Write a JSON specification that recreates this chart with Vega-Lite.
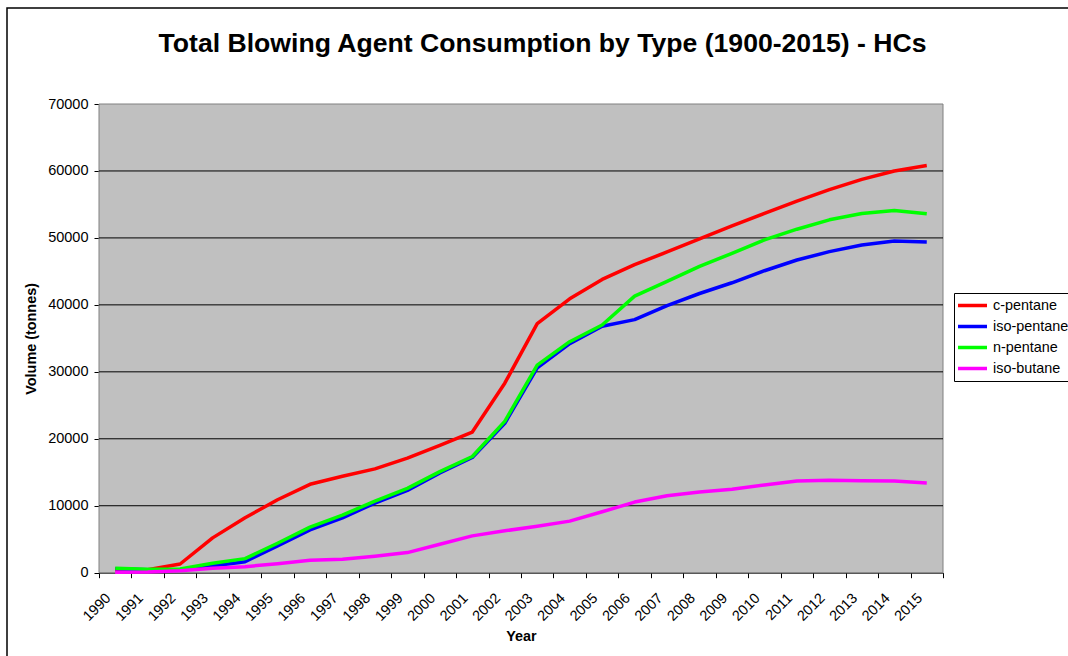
{
  "$schema": "https://vega.github.io/schema/vega-lite/v6.json",
  "autosize": "none",
  "width": 1071,
  "height": 660,
  "padding": {"left": 7, "top": 8, "right": 0, "bottom": 0},
  "background": "white",
  "title": {
    "text": "Total Blowing Agent Consumption by Type (1900-2015) - HCs",
    "font": "Liberation Sans",
    "fontSize": 26.6,
    "fontWeight": "bold",
    "color": "black",
    "anchor": "middle",
    "frame": "group",
    "baseline": "alphabetic",
    "offset": 0,
    "dy": 71
  },
  "datasets": {
    "series": [
      {"Year": 1990, "Type": "c-pentane", "Volume": 400},
      {"Year": 1991, "Type": "c-pentane", "Volume": 450},
      {"Year": 1992, "Type": "c-pentane", "Volume": 1300},
      {"Year": 1993, "Type": "c-pentane", "Volume": 5200},
      {"Year": 1994, "Type": "c-pentane", "Volume": 8200},
      {"Year": 1995, "Type": "c-pentane", "Volume": 10900},
      {"Year": 1996, "Type": "c-pentane", "Volume": 13200},
      {"Year": 1997, "Type": "c-pentane", "Volume": 14400},
      {"Year": 1998, "Type": "c-pentane", "Volume": 15500},
      {"Year": 1999, "Type": "c-pentane", "Volume": 17100},
      {"Year": 2000, "Type": "c-pentane", "Volume": 19000},
      {"Year": 2001, "Type": "c-pentane", "Volume": 21000},
      {"Year": 2002, "Type": "c-pentane", "Volume": 28300},
      {"Year": 2003, "Type": "c-pentane", "Volume": 37200},
      {"Year": 2004, "Type": "c-pentane", "Volume": 40900},
      {"Year": 2005, "Type": "c-pentane", "Volume": 43800},
      {"Year": 2006, "Type": "c-pentane", "Volume": 46000},
      {"Year": 2007, "Type": "c-pentane", "Volume": 47900},
      {"Year": 2008, "Type": "c-pentane", "Volume": 49850},
      {"Year": 2009, "Type": "c-pentane", "Volume": 51800},
      {"Year": 2010, "Type": "c-pentane", "Volume": 53650},
      {"Year": 2011, "Type": "c-pentane", "Volume": 55500},
      {"Year": 2012, "Type": "c-pentane", "Volume": 57200},
      {"Year": 2013, "Type": "c-pentane", "Volume": 58750},
      {"Year": 2014, "Type": "c-pentane", "Volume": 60000},
      {"Year": 2015, "Type": "c-pentane", "Volume": 60800},
      {"Year": 1990, "Type": "iso-pentane", "Volume": 600},
      {"Year": 1991, "Type": "iso-pentane", "Volume": 450},
      {"Year": 1992, "Type": "iso-pentane", "Volume": 400},
      {"Year": 1993, "Type": "iso-pentane", "Volume": 1000},
      {"Year": 1994, "Type": "iso-pentane", "Volume": 1650},
      {"Year": 1995, "Type": "iso-pentane", "Volume": 4000},
      {"Year": 1996, "Type": "iso-pentane", "Volume": 6400},
      {"Year": 1997, "Type": "iso-pentane", "Volume": 8200},
      {"Year": 1998, "Type": "iso-pentane", "Volume": 10400},
      {"Year": 1999, "Type": "iso-pentane", "Volume": 12300},
      {"Year": 2000, "Type": "iso-pentane", "Volume": 14900},
      {"Year": 2001, "Type": "iso-pentane", "Volume": 17200},
      {"Year": 2002, "Type": "iso-pentane", "Volume": 22300},
      {"Year": 2003, "Type": "iso-pentane", "Volume": 30600},
      {"Year": 2004, "Type": "iso-pentane", "Volume": 34200},
      {"Year": 2005, "Type": "iso-pentane", "Volume": 36800},
      {"Year": 2006, "Type": "iso-pentane", "Volume": 37800},
      {"Year": 2007, "Type": "iso-pentane", "Volume": 39900},
      {"Year": 2008, "Type": "iso-pentane", "Volume": 41700},
      {"Year": 2009, "Type": "iso-pentane", "Volume": 43300},
      {"Year": 2010, "Type": "iso-pentane", "Volume": 45100},
      {"Year": 2011, "Type": "iso-pentane", "Volume": 46700},
      {"Year": 2012, "Type": "iso-pentane", "Volume": 47950},
      {"Year": 2013, "Type": "iso-pentane", "Volume": 48950},
      {"Year": 2014, "Type": "iso-pentane", "Volume": 49550},
      {"Year": 2015, "Type": "iso-pentane", "Volume": 49400},
      {"Year": 1990, "Type": "n-pentane", "Volume": 650},
      {"Year": 1991, "Type": "n-pentane", "Volume": 500},
      {"Year": 1992, "Type": "n-pentane", "Volume": 550},
      {"Year": 1993, "Type": "n-pentane", "Volume": 1400},
      {"Year": 1994, "Type": "n-pentane", "Volume": 2100},
      {"Year": 1995, "Type": "n-pentane", "Volume": 4400},
      {"Year": 1996, "Type": "n-pentane", "Volume": 6800},
      {"Year": 1997, "Type": "n-pentane", "Volume": 8600},
      {"Year": 1998, "Type": "n-pentane", "Volume": 10700},
      {"Year": 1999, "Type": "n-pentane", "Volume": 12600},
      {"Year": 2000, "Type": "n-pentane", "Volume": 15100},
      {"Year": 2001, "Type": "n-pentane", "Volume": 17350},
      {"Year": 2002, "Type": "n-pentane", "Volume": 22600},
      {"Year": 2003, "Type": "n-pentane", "Volume": 31000},
      {"Year": 2004, "Type": "n-pentane", "Volume": 34500},
      {"Year": 2005, "Type": "n-pentane", "Volume": 37000},
      {"Year": 2006, "Type": "n-pentane", "Volume": 41300},
      {"Year": 2007, "Type": "n-pentane", "Volume": 43500},
      {"Year": 2008, "Type": "n-pentane", "Volume": 45750},
      {"Year": 2009, "Type": "n-pentane", "Volume": 47700},
      {"Year": 2010, "Type": "n-pentane", "Volume": 49700},
      {"Year": 2011, "Type": "n-pentane", "Volume": 51300},
      {"Year": 2012, "Type": "n-pentane", "Volume": 52700},
      {"Year": 2013, "Type": "n-pentane", "Volume": 53650},
      {"Year": 2014, "Type": "n-pentane", "Volume": 54100},
      {"Year": 2015, "Type": "n-pentane", "Volume": 53600},
      {"Year": 1990, "Type": "iso-butane", "Volume": 60},
      {"Year": 1991, "Type": "iso-butane", "Volume": 100},
      {"Year": 1992, "Type": "iso-butane", "Volume": 300},
      {"Year": 1993, "Type": "iso-butane", "Volume": 650},
      {"Year": 1994, "Type": "iso-butane", "Volume": 900},
      {"Year": 1995, "Type": "iso-butane", "Volume": 1350},
      {"Year": 1996, "Type": "iso-butane", "Volume": 1850},
      {"Year": 1997, "Type": "iso-butane", "Volume": 2000},
      {"Year": 1998, "Type": "iso-butane", "Volume": 2450},
      {"Year": 1999, "Type": "iso-butane", "Volume": 3000},
      {"Year": 2000, "Type": "iso-butane", "Volume": 4250},
      {"Year": 2001, "Type": "iso-butane", "Volume": 5500},
      {"Year": 2002, "Type": "iso-butane", "Volume": 6250},
      {"Year": 2003, "Type": "iso-butane", "Volume": 6950},
      {"Year": 2004, "Type": "iso-butane", "Volume": 7700},
      {"Year": 2005, "Type": "iso-butane", "Volume": 9100},
      {"Year": 2006, "Type": "iso-butane", "Volume": 10550},
      {"Year": 2007, "Type": "iso-butane", "Volume": 11500},
      {"Year": 2008, "Type": "iso-butane", "Volume": 12050},
      {"Year": 2009, "Type": "iso-butane", "Volume": 12450},
      {"Year": 2010, "Type": "iso-butane", "Volume": 13100},
      {"Year": 2011, "Type": "iso-butane", "Volume": 13700},
      {"Year": 2012, "Type": "iso-butane", "Volume": 13800},
      {"Year": 2013, "Type": "iso-butane", "Volume": 13750},
      {"Year": 2014, "Type": "iso-butane", "Volume": 13700},
      {"Year": 2015, "Type": "iso-butane", "Volume": 13400}
    ],
    "gridlines": [
      {"Level": 10000},
      {"Level": 20000},
      {"Level": 30000},
      {"Level": 40000},
      {"Level": 50000},
      {"Level": 60000}
    ],
    "plotArea": [
      {"Panel": "plot"}
    ]
  },
  "layer": [
    {
      "data": {"name": "plotArea"},
      "mark": {"type": "rect", "fill": "#C0C0C0", "stroke": "#808080", "strokeWidth": 1},
      "encoding": {
        "x": {
          "datum": 1989.5,
          "type": "quantitative",
          "scale": {"domain": [1989.5, 2015.5], "range": [92, 936], "nice": false, "zero": false},
          "axis": {
            "orient": "bottom",
            "offset": -95.3,
            "values": [1989.5, 1990.5, 1991.5, 1992.5, 1993.5, 1994.5, 1995.5, 1996.5, 1997.5, 1998.5, 1999.5, 2000.5, 2001.5, 2002.5, 2003.5, 2004.5, 2005.5, 2006.5, 2007.5, 2008.5, 2009.5, 2010.5, 2011.5, 2012.5, 2013.5, 2014.5, 2015.5],
            "labels": false,
            "title": null,
            "grid": false,
            "ticks": true,
            "tickSize": 5,
            "tickColor": "black",
            "domain": true,
            "domainColor": "black"
          }
        },
        "x2": {"datum": 2015.5},
        "y": {
          "datum": 0,
          "type": "quantitative",
          "scale": {"domain": [0, 70000], "range": [564.7, 96], "nice": false, "zero": false},
          "axis": {
            "orient": "left",
            "offset": -92,
            "title": "Volume (tonnes)",
            "titleFont": "Liberation Sans",
            "titleFontSize": 14.4,
            "titleFontWeight": "bold",
            "titleColor": "black",
            "titleAngle": -90,
            "titleBaseline": "middle",
            "titleAlign": "center",
            "titleX": -68,
            "titleY": 330.4,
            "values": [0, 10000, 20000, 30000, 40000, 50000, 60000, 70000],
            "format": "d",
            "labelFont": "Liberation Sans",
            "labelFontSize": 14.5,
            "labelColor": "black",
            "labelPadding": 6,
            "tickSize": 5,
            "tickColor": "black",
            "domainColor": "black",
            "grid": false
          }
        },
        "y2": {"datum": 70000}
      }
    },
    {
      "data": {"name": "gridlines"},
      "mark": {"type": "rule", "color": "black", "strokeWidth": 1},
      "encoding": {
        "x": {"datum": 1989.5, "type": "quantitative", "axis": null},
        "x2": {"datum": 2015.5},
        "y": {"field": "Level", "type": "quantitative", "title": "Volume (tonnes)"}
      }
    },
    {
      "data": {"name": "series"},
      "mark": {"type": "line", "strokeWidth": 3.5, "strokeJoin": "round", "strokeCap": "butt"},
      "encoding": {
        "x": {
          "field": "Year",
          "type": "quantitative",
          "axis": {
            "orient": "bottom",
            "offset": -95.3,
            "values": [1990, 1991, 1992, 1993, 1994, 1995, 1996, 1997, 1998, 1999, 2000, 2001, 2002, 2003, 2004, 2005, 2006, 2007, 2008, 2009, 2010, 2011, 2012, 2013, 2014, 2015],
            "format": "d",
            "title": "Year",
            "titleFont": "Liberation Sans",
            "titleFontSize": 14.4,
            "titleFontWeight": "bold",
            "titleColor": "black",
            "titleBaseline": "middle",
            "titleY": 64,
            "labelAngle": -45,
            "labelAlign": "right",
            "labelBaseline": "middle",
            "labelPadding": 23,
            "labelOffset": -7,
            "labelFont": "Liberation Sans",
            "labelFontSize": 14.5,
            "labelColor": "black",
            "labelOverlap": false,
            "labelFlush": false,
            "labelBound": false,
            "ticks": false,
            "tickSize": 0,
            "domain": false,
            "grid": false
          }
        },
        "y": {"field": "Volume", "type": "quantitative", "title": "Volume (tonnes)"},
        "color": {
          "field": "Type",
          "type": "nominal",
          "sort": ["c-pentane", "iso-pentane", "n-pentane", "iso-butane"],
          "scale": {
            "domain": ["c-pentane", "iso-pentane", "n-pentane", "iso-butane"],
            "range": ["#FF0000", "#0000FF", "#00FF00", "#FF00FF"]
          },
          "legend": {
            "title": null,
            "orient": "none",
            "legendX": 947,
            "legendY": 285,
            "direction": "vertical",
            "strokeColor": "black",
            "fillColor": "white",
            "padding": 2,
            "symbolType": "stroke",
            "symbolSize": 841,
            "symbolStrokeWidth": 3.5,
            "clipHeight": 21,
            "rowPadding": 0,
            "labelOffset": 4,
            "labelFont": "Liberation Sans",
            "labelFontSize": 14.4,
            "labelColor": "black",
            "labelLimit": 200
          }
        }
      }
    }
  ],
  "resolve": {"axis": {"x": "independent"}},
  "config": {
    "view": {"fill": "white", "stroke": "black", "strokeWidth": 1.5}
  }
}
